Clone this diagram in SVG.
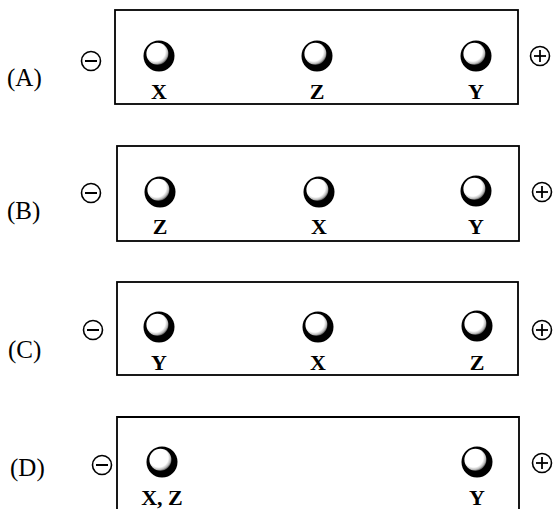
<svg xmlns="http://www.w3.org/2000/svg" width="554" height="509" viewBox="0 0 554 509">
<defs>
<radialGradient id="hiGrad" cx="0.42" cy="0.4" r="0.62">
<stop offset="0" stop-color="#fff"/>
<stop offset="0.7" stop-color="#fff"/>
<stop offset="0.88" stop-color="#bbb"/>
<stop offset="1" stop-color="#555"/>
</radialGradient>
<g id="ball"><circle r="15.5" fill="#000"/><circle cx="-1.6" cy="-2.2" r="11" fill="url(#hiGrad)"/></g>
<g id="minus"><circle r="9.5" fill="none" stroke="#000" stroke-width="1.6"/><line x1="-6" y1="0" x2="6" y2="0" stroke="#000" stroke-width="2"/></g>
<g id="plus"><circle r="9.5" fill="none" stroke="#000" stroke-width="1.6"/><line x1="-6" y1="0" x2="6" y2="0" stroke="#000" stroke-width="1.8"/><line x1="0" y1="-6" x2="0" y2="6" stroke="#000" stroke-width="1.8"/></g>
</defs>
<style>
.box{fill:none;stroke:#000;stroke-width:1.8}
.opt{font-family:"Liberation Serif","Times New Roman",serif;font-size:25px;fill:#000}
.lab{font-family:"Liberation Serif","Times New Roman",serif;font-size:22px;font-weight:bold;fill:#000;text-anchor:middle}
</style>
<rect width="554" height="509" fill="#fff"/>

<g id="optionA">
<text class="opt" x="7" y="86">(A)</text>
<use href="#minus" x="91" y="61"/>
<rect class="box" x="115" y="10" width="403" height="94"/>
<use href="#ball" x="159" y="56"/>
<use href="#ball" x="317" y="56"/>
<use href="#ball" x="476" y="56"/>
<text class="lab" x="159" y="99">X</text>
<text class="lab" x="317" y="99">Z</text>
<text class="lab" x="476" y="99">Y</text>
<use href="#plus" x="540" y="56"/>
</g>

<g id="optionB">
<text class="opt" x="7" y="219">(B)</text>
<use href="#minus" x="91" y="193"/>
<rect class="box" x="117" y="146" width="402" height="95"/>
<use href="#ball" x="160" y="192"/>
<use href="#ball" x="319" y="192"/>
<use href="#ball" x="476" y="191"/>
<text class="lab" x="160" y="234">Z</text>
<text class="lab" x="319" y="234">X</text>
<text class="lab" x="476" y="234">Y</text>
<use href="#plus" x="542" y="192"/>
</g>

<g id="optionC">
<text class="opt" x="8" y="358">(C)</text>
<use href="#minus" x="93" y="330"/>
<rect class="box" x="117" y="282" width="401" height="93"/>
<use href="#ball" x="159" y="327"/>
<use href="#ball" x="318" y="327"/>
<use href="#ball" x="477" y="326"/>
<text class="lab" x="159" y="370">Y</text>
<text class="lab" x="318" y="370">X</text>
<text class="lab" x="477" y="370">Z</text>
<use href="#plus" x="542" y="330"/>
</g>

<g id="optionD">
<text class="opt" x="10" y="476">(D)</text>
<use href="#minus" x="102" y="465"/>
<path class="box" d="M117 512 V417 H519 V512"/>
<use href="#ball" x="162" y="462"/>
<use href="#ball" x="477" y="462"/>
<text class="lab" x="162" y="505">X, Z</text>
<text class="lab" x="477" y="505">Y</text>
<use href="#plus" x="542" y="463"/>
</g>
</svg>
